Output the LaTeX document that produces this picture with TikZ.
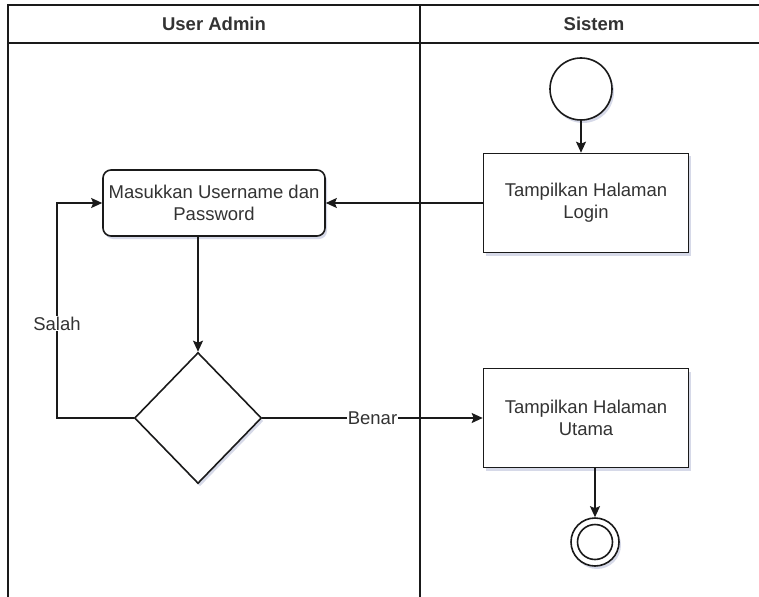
\documentclass[tikz,border=0pt]{standalone}
\usepackage{fontspec}
\setmainfont{Liberation Sans}
\usepackage{xcolor}
\usetikzlibrary{arrows.meta,positioning,shapes.geometric,shadows}

\definecolor{txt}{HTML}{333333}
\definecolor{ln}{HTML}{1A1A1A}
\definecolor{shadowc}{HTML}{AEB4D2}

\begin{document}
\begin{tikzpicture}[
    x=1pt, y=-1pt,
    font=\fontsize{18.5}{22}\selectfont,
    every node/.style={text=txt},
    shd/.style={drop shadow={shadow xshift=2pt,shadow yshift=-3pt,fill=shadowc,opacity=.5}},
    lane/.style={draw=ln,line width=1.6pt},
    head/.style={font=\fontsize{18.5}{22}\selectfont\bfseries},
    act/.style={draw=ln,line width=1.6pt,fill=white,align=center,minimum width=205pt,minimum height=99pt,inner sep=2pt,shd},
    inp/.style={act,rounded corners=8pt,minimum width=222pt,minimum height=66pt},
    dec/.style={diamond,draw=ln,line width=1.6pt,fill=white,minimum width=127pt,minimum height=131pt,inner sep=0pt,shd},
    ini/.style={circle,draw=ln,line width=1.6pt,fill=white,minimum size=62pt,inner sep=0pt,shd},
    fin/.style={ini,minimum size=48pt},
    arr/.style={-{Stealth[length=11pt,width=10pt,inset=2pt]},line width=1.6pt,draw=ln},
    lbl/.style={fill=white,inner sep=1pt}
]
\useasboundingbox (0,0) rectangle (759,596);
\clip (0,0) rectangle (759,596);

\draw[lane] (8,5) rectangle (770,620);
\draw[lane] (8,43) -- (770,43);
\draw[lane] (420,5) -- (420,620);
\node[head] (hadmin) at (214,24) {User Admin};
\node[head] (hsys) at (594,24) {Sistem};

\node[ini] (start) at (581,89) {};
\node[act] (login) at (586,203) {Tampilkan Halaman\\Login};
\node[inp] (input) at (214,203) {Masukkan Username dan\\Password};
\node[dec] (cek) at (198,418) {};
\node[act] (utama) at (586,418) {Tampilkan Halaman\\Utama};
\node[fin] (akhir) at (595,542) {};
\node[circle,draw=ln,line width=1.6pt,minimum size=35pt,inner sep=0pt] (akhirin) at (akhir) {};
\coordinate (balik) at (57,418);

\draw[arr] (start) -- (start |- login.north);
\draw[arr] (login.west) -- (input.east);
\draw[arr] (input.south -| cek) -- (cek.north);
\draw[arr] (cek.west) -- (balik) |- node[lbl,pos=0.22]{Salah} (input.west);
\draw[arr] (cek.east) -- node[lbl]{Benar} (utama.west);
\draw[arr] (utama.south -| akhir) -- (akhir.north);
\end{tikzpicture}
\end{document}
